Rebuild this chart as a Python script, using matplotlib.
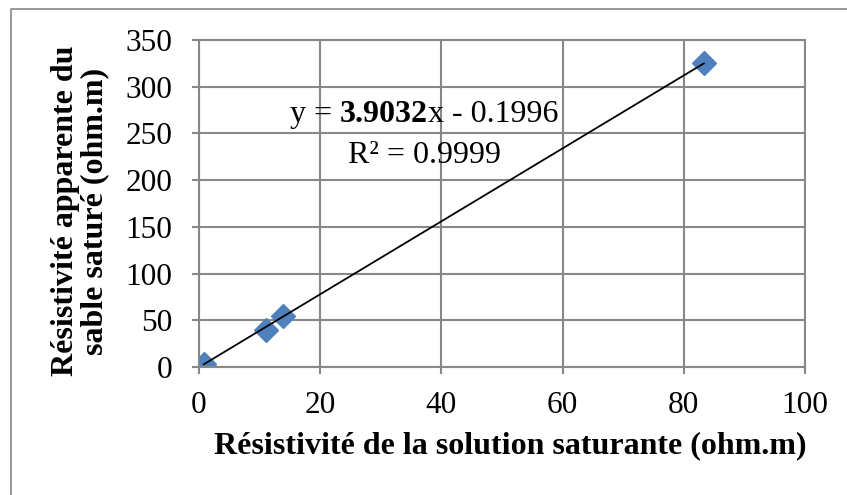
import matplotlib.pyplot as plt
from matplotlib.lines import Line2D

plt.rcParams['font.family'] = ['Liberation Serif', 'DejaVu Serif']

# Data
x_sol = [0.8, 11.0, 13.8, 83.3]
y_sable = [3.0, 40.0, 55.0, 325.0]
slope = 3.9032
intercept = -0.1996
r2 = 0.9999

x_ticks = [0, 20, 40, 60, 80, 100]
y_ticks = [0, 50, 100, 150, 200, 250, 300, 350]

grid_col = '#888888'
fs = 22.5

fig = plt.figure(figsize=(8.47, 4.95), dpi=100)
ax = fig.add_axes([199 / 847, 1 - 367 / 495, 606 / 847, 327 / 495])

# outer chart border (only left and top are inside the picture)
bx, by = 10.5 / 847, 1 - 8.5 / 495
fig.add_artist(Line2D([bx, bx, 1.0], [0.0, by, by], transform=fig.transFigure,
                      color='#868686', linewidth=1.2))

ax.set_xlim(0, 100)
ax.set_ylim(0, 350)
ax.set_xticks(x_ticks)
ax.set_yticks(y_ticks)
ax.grid(True, color=grid_col, linewidth=1.5)
ax.set_axisbelow(True)
for s in ax.spines.values():
    s.set_color(grid_col)
    s.set_linewidth(1.5)
ax.tick_params(axis='both', colors=grid_col, length=5, width=1.5,
               labelcolor='black', labelsize=fs)
ax.tick_params(axis='y', pad=14)
ax.tick_params(axis='x', pad=12)

# trendline over data range
xl = [min(x_sol), max(x_sol)]
yl = [slope * v + intercept for v in xl]
ax.plot(xl, yl, color='black', linewidth=1.3, zorder=3)
ax.plot(x_sol, y_sable, linestyle='none', marker='D', markersize=12,
        color='#4F81BD', zorder=2)

# equation label with bold slope
sign = '-' if intercept < 0 else '+'
efs = 23
e1 = ax.annotate('y = ', xy=(290 / 847, 1 - 122 / 495), xycoords='figure fraction',
                 fontsize=efs, va='baseline', ha='left')
e2 = ax.annotate(f'{slope:.4f}', xy=(1, 0), xycoords=e1, fontsize=efs,
                 fontweight='bold', va='bottom', ha='left')
e3 = ax.annotate(f'x {sign} {abs(intercept):.4f}', xy=(1, 0), xycoords=e2,
                 fontsize=efs, va='bottom', ha='left')
ax.annotate(f'R² = {r2:.4f}', xy=(424 / 847, 1 - 163 / 495),
            xycoords='figure fraction', fontsize=efs, va='baseline', ha='center')

ax.set_xlabel('Résistivité de la solution saturante (ohm.m)', fontsize=23,
              fontweight='bold')
ax.set_ylabel('Résistivité apparente du\nsable saturé (ohm.m)', fontsize=23,
              fontweight='bold', linespacing=1.0)
ax.xaxis.set_label_coords((510 - 199) / 606, -(446 - 367) / 327)
ax.xaxis.label.set_va('center')
ax.yaxis.set_label_coords((80 - 199) / 606, (367 - 211) / 327)
ax.yaxis.label.set_va('center')

fig.savefig('out.png', dpi=100)
